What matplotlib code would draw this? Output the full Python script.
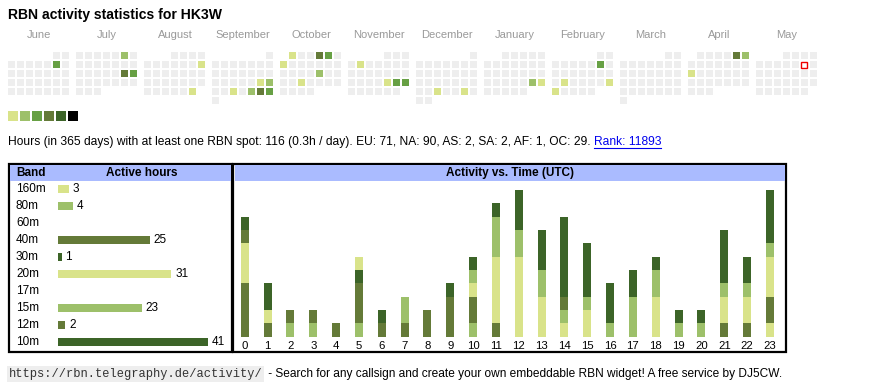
import matplotlib
matplotlib.use('Agg')

import matplotlib.pyplot as plt
from matplotlib.patches import Rectangle
from matplotlib import transforms
from datetime import date
import calendar

plt.rcParams['font.family'] = ['Liberation Sans', 'DejaVu Sans']

W, H = 870, 390

callsign = 'HK3W'

# calendrier : juin 2024 -> mai 2025
month_names = ['June', 'July', 'August', 'September', 'October', 'November',
               'December', 'January', 'February', 'March', 'April', 'May']
month_years = [2024, 2024, 2024, 2024, 2024, 2024, 2024, 2025, 2025, 2025, 2025, 2025]
month_nums = [6, 7, 8, 9, 10, 11, 12, 1, 2, 3, 4, 5]

# jours actifs -> niveau de couleur (1..6)
active_days = {
    date(2024, 6, 8): 3,
    date(2024, 7, 6): 2,
    date(2024, 7, 20): 4,
    date(2024, 7, 21): 3,
    date(2024, 8, 11): 1,
    date(2024, 8, 31): 1,
    date(2024, 9, 21): 1,
    date(2024, 9, 22): 2,
    date(2024, 9, 25): 1,
    date(2024, 9, 27): 2,
    date(2024, 9, 28): 4,
    date(2024, 9, 29): 3,
    date(2024, 10, 1): 1,
    date(2024, 10, 4): 4,
    date(2024, 10, 5): 3,
    date(2024, 10, 7): 1,
    date(2024, 10, 18): 2,
    date(2024, 10, 23): 1,
    date(2024, 11, 5): 1,
    date(2024, 11, 22): 1,
    date(2024, 11, 23): 3,
    date(2024, 11, 24): 3,
    date(2024, 12, 25): 1,
    date(2024, 12, 28): 1,
    date(2025, 1, 25): 2,
    date(2025, 1, 26): 1,
    date(2025, 2, 8): 3,
    date(2025, 2, 18): 1,
    date(2025, 2, 23): 1,
    date(2025, 2, 24): 1,
    date(2025, 4, 5): 4,
    date(2025, 4, 6): 2,
    date(2025, 4, 14): 1,
}
today = date(2025, 5, 10)

level_colors = ['#d9e38a', '#9dc06a', '#67a044', '#647a38', '#3c6428', '#000000']
empty_color = '#eeeeee'

# heures par bande
bands = ['160m', '80m', '60m', '40m', '30m', '20m', '17m', '15m', '12m', '10m']
band_hours = [3, 4, 0, 25, 1, 31, 0, 23, 2, 41]
band_colors = ['#d9e38a', '#9dc06a', '#67a044', '#647a38', '#3c6428',
               '#d9e38a', '#67a044', '#9dc06a', '#647a38', '#3c6428']

# heures actives par heure UTC et par bande
hours_utc = list(range(24))
hourly = {
    '160m': [0, 0, 0, 0, 0, 0, 0, 0, 0, 0, 0, 0, 0, 0, 1, 0, 0, 0, 1, 0, 0, 0, 0, 1],
    '80m':  [0, 0, 1, 1, 0, 1, 0, 0, 0, 0, 1, 0, 0, 0, 0, 0, 0, 0, 0, 0, 0, 0, 0, 0],
    '60m':  [0] * 24,
    '40m':  [4, 1, 1, 1, 1, 3, 1, 1, 2, 3, 2, 1, 0, 0, 0, 0, 0, 0, 0, 0, 0, 1, 1, 2],
    '30m':  [0, 0, 0, 0, 0, 1, 0, 0, 0, 0, 0, 0, 0, 0, 0, 0, 0, 0, 0, 0, 0, 0, 0, 0],
    '20m':  [3, 1, 0, 0, 0, 1, 0, 0, 0, 0, 1, 5, 6, 3, 0, 2, 0, 0, 2, 0, 0, 2, 2, 3],
    '17m':  [0] * 24,
    '15m':  [0, 0, 0, 0, 0, 0, 0, 2, 0, 0, 1, 3, 2, 2, 1, 1, 1, 3, 2, 1, 1, 1, 1, 1],
    '12m':  [1, 0, 0, 0, 0, 0, 0, 0, 0, 0, 0, 0, 0, 0, 1, 0, 0, 0, 0, 0, 0, 0, 0, 0],
    '10m':  [1, 2, 0, 0, 0, 0, 1, 0, 0, 1, 1, 1, 3, 3, 6, 4, 3, 2, 1, 1, 1, 4, 2, 4],
}

stats_text = ('Hours (in 365 days) with at least one RBN spot: 116 (0.3h / day). '
              'EU: 71, NA: 90, AS: 2, SA: 2, AF: 1, OC: 29. ')
rank_text = 'Rank: 11893'
url_text = 'https://rbn.telegraphy.de/activity/'
footer_text = ' - Search for any callsign and create your own embeddable RBN widget! A free service by DJ5CW.'


def px_axes(fig, x0, y0, x1, y1):
    """axes placé en pixels (origine en haut à gauche)"""
    return fig.add_axes([x0 / W, 1 - y1 / H, (x1 - x0) / W, (y1 - y0) / H])


fig = plt.figure(figsize=(W / 100, H / 100), dpi=100)
base = fig.add_axes([0, 0, 1, 1])
base.set_xlim(0, W)
base.set_ylim(H, 0)
base.axis('off')

base.text(8, 15, f'RBN activity statistics for {callsign}', fontsize=10.05,
          fontweight='bold', va='center', ha='left')

# calendrier
cell, pitch, month_pitch = 7, 9, 68
for m, (name, y, mo) in enumerate(zip(month_names, month_years, month_nums)):
    x_month = 8 + m * month_pitch
    base.text(x_month + 31, 35, name, fontsize=8, color='#999999', ha='center', va='center')
    first_wd = date(y, mo, 1).weekday()
    for d in range(1, calendar.monthrange(y, mo)[1] + 1):
        day = date(y, mo, d)
        row = (d - 1 + first_wd) // 7
        x = x_month + day.weekday() * pitch
        yy = 52 + row * pitch
        if day in active_days:
            fc = level_colors[active_days[day] - 1]
        else:
            fc = empty_color
        if day == today:
            base.add_patch(Rectangle((x + 0.5, yy + 0.5), cell - 1, cell - 1, facecolor='white',
                                     edgecolor='#ee0000', linewidth=1))
        else:
            base.add_patch(Rectangle((x, yy), cell, cell, facecolor=fc, edgecolor='none'))

# légende
for i, c in enumerate(level_colors):
    base.add_patch(Rectangle((8 + i * 12, 111), 10, 10, facecolor=c, edgecolor='none'))

t1 = base.text(8, 142, stats_text, fontsize=8.65, va='center', ha='left')
fig.canvas.draw()
renderer = fig.canvas.get_renderer()
bb = t1.get_window_extent(renderer)
x_rank = bb.x1
t2 = fig.text(x_rank / W, 1 - 142 / H, rank_text, fontsize=8.65, va='center', ha='left',
              color='#0000ee')
bb2 = t2.get_window_extent(renderer)
base.plot([bb2.x0, bb2.x1], [147.5, 147.5], color='#0000ee', linewidth=0.8)

# cadres
base.add_patch(Rectangle((9, 164), 223, 188, facecolor='white', edgecolor='black', linewidth=1.6))
base.add_patch(Rectangle((233.5, 164), 553, 188, facecolor='white', edgecolor='black', linewidth=1.6))
base.add_patch(Rectangle((10, 165), 221, 16, facecolor='#aabbff', edgecolor='none'))
base.add_patch(Rectangle((235, 165), 550, 16, facecolor='#aabbff', edgecolor='none'))
base.text(16, 173, 'Band', fontsize=8.5, fontweight='bold', va='center')
base.text(142, 173, 'Active hours', fontsize=8.5, fontweight='bold', va='center', ha='center')
base.text(510, 173, 'Activity vs. Time (UTC)', fontsize=8.5, fontweight='bold',
          va='center', ha='center')

# barres par bande
ax1 = px_axes(fig, 58, 180.5, 228, 350.5)
ax1.patch.set_alpha(0)
ax1.barh(range(len(bands)), band_hours, height=0.42, color=band_colors, linewidth=0)
ax1.set_xlim(0, 170 / 3.66)
ax1.set_ylim(len(bands) - 0.5, -0.5)
ax1.axis('off')
lab_tr = transforms.blended_transform_factory(base.transData, ax1.transData)
for i, (b, v) in enumerate(zip(bands, band_hours)):
    ax1.text(16, i, b, transform=lab_tr, fontsize=8.5, va='center', ha='left')
    if v > 0:
        ax1.text(v + 1.0, i, str(v), fontsize=8.5, va='center', ha='left')

# barres empilées par heure
ax2 = px_axes(fig, 234, 183, 785, 336.7)
ax2.patch.set_alpha(0)
bottom = [0] * 24
for b, c in zip(bands, band_colors):
    vals = hourly[b]
    ax2.bar(hours_utc, vals, width=0.35, bottom=bottom, color=c, linewidth=0)
    bottom = [p + v for p, v in zip(bottom, vals)]
ax2.set_xlim(-0.468, 23.657)
ax2.set_ylim(0, 153.7 / 13.33)
for s in ax2.spines.values():
    s.set_visible(False)
ax2.set_yticks([])
ax2.set_xticks(hours_utc)
ax2.set_xticklabels([str(h) for h in hours_utc], fontsize=8.2)
ax2.tick_params(axis='x', length=0, pad=3)

# pied de page
t3 = base.text(9, 374, url_text, fontsize=8.65, family=['Liberation Mono', 'DejaVu Sans Mono'],
               va='center', ha='left', color='#333333',
               bbox=dict(facecolor='#eeeeee', edgecolor='none', pad=1.2))
fig.canvas.draw()
bb3 = t3.get_window_extent(renderer)
fig.text((bb3.x1 + 2) / W, 1 - 374 / H, footer_text, fontsize=8.55, va='center', ha='left')

fig.savefig('out.png', dpi=100)
